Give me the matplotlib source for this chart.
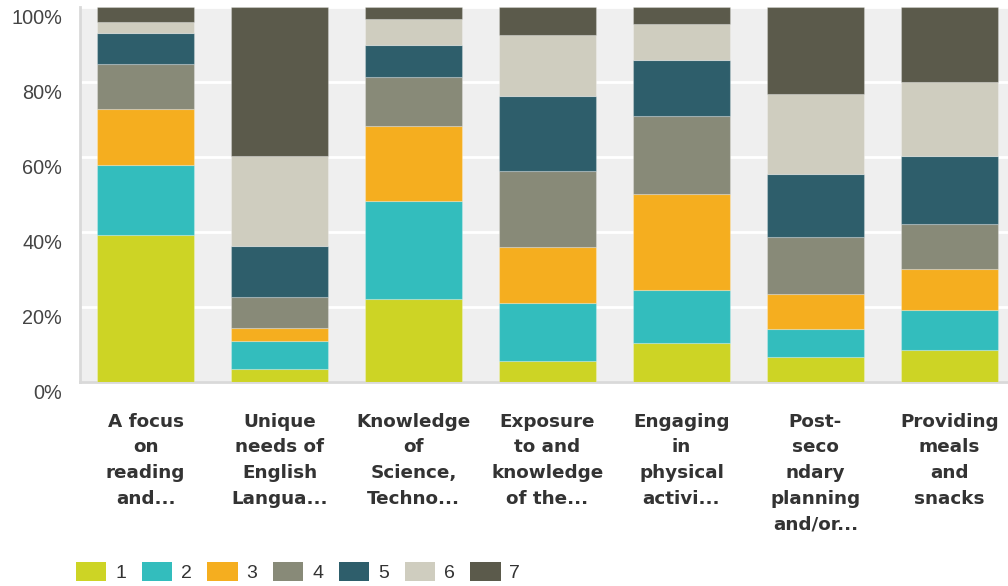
"""Stacked 100% bar chart of rating distribution per topic."""

import matplotlib
matplotlib.use('Agg')
import matplotlib.pyplot as plt
import matplotlib.transforms as mtransforms
from matplotlib.patches import Patch
import numpy as np

plt.rcParams['font.family'] = ['Liberation Sans', 'DejaVu Sans']

categories = ['A focus\non\nreading\nand...',
              'Unique\nneeds of\nEnglish\nLangua...',
              'Knowledge\nof\nScience,\nTechno...',
              'Exposure\nto and\nknowledge\nof the...',
              'Engaging\nin\nphysical\nactivi...',
              'Post-\nseco\nndary\nplanning\nand/or...',
              'Providing\nmeals\nand\nsnacks']
series_names = ['1', '2', '3', '4', '5', '6', '7']

# percentages per rating, one list per rating (1..7), one value per category
r1 = [39.3, 3.5, 22.1, 5.6, 10.6, 6.7, 8.6]
r2 = [18.7, 7.6, 26.2, 15.5, 14.1, 7.5, 10.6]
r3 = [14.9, 3.5, 20.1, 15.1, 25.6, 9.4, 11.0]
r4 = [12.1, 8.1, 13.0, 20.1, 20.6, 15.1, 12.1]
r5 = [8.1, 13.6, 8.5, 20.1, 15.0, 16.8, 18.1]
r6 = [2.9, 24.1, 7.1, 16.1, 9.6, 21.4, 19.6]
r7 = [4.0, 39.6, 3.0, 7.5, 4.5, 23.1, 20.0]

colors = ['#cdd425', '#33bdbd', '#f5ae1f', '#888a78', '#2e5e6b', '#cfcdbf', '#5b5a4b']

fig = plt.figure(figsize=(10.08, 5.86), dpi=100)
ax = fig.add_axes([80 / 1008, 203.7 / 586, 935 / 1008, 375 / 586])
ax.set_facecolor('#efefef')

x = np.arange(len(categories))
bottom = np.zeros(len(categories))
for name, vals, col in zip(series_names, [r1, r2, r3, r4, r5, r6, r7], colors):
    vals = np.array(vals)
    ax.bar(x, vals, bottom=bottom, width=0.724, color=col,
           edgecolor=(1, 1, 1, 0.25), linewidth=0.8, zorder=3)
    bottom += vals

ax.set_xlim(-0.49, 6.49)
ax.set_ylim(0, 100)

ax.set_yticks([0, 20, 40, 60, 80, 100])
ax.set_yticklabels(['0%', '20%', '40%', '60%', '80%', '100%'], fontsize=14.3, color='#444444')
ax.yaxis.grid(True, color='white', linewidth=2, zorder=1)
ax.set_axisbelow(True)
ax.tick_params(axis='y', length=0, pad=13)
offset = mtransforms.ScaledTranslation(0, -9 / 100, fig.dpi_scale_trans)
for lbl in ax.get_yticklabels():
    lbl.set_transform(lbl.get_transform() + offset)

ax.set_xticks(x)
ax.set_xticklabels(categories, fontsize=13.2, fontweight='bold', color='#333333',
                   family='DejaVu Sans', linespacing=1.54, va='top')
ax.tick_params(axis='x', length=0, pad=22)

for side in ['top', 'right']:
    ax.spines[side].set_visible(False)
for side in ['left', 'bottom']:
    ax.spines[side].set_color('#d9d9d9')
    ax.spines[side].set_linewidth(2)

handles = [Patch(facecolor=c, edgecolor='none', label=n) for n, c in zip(series_names, colors)]
leg = fig.legend(handles=handles, loc='center left', bbox_to_anchor=(76 / 1008, 14 / 586), ncol=7,
                 frameon=False, fontsize=14, handlelength=1.55, handleheight=1.13,
                 handletextpad=0.46, columnspacing=0.81, borderpad=0, borderaxespad=0)
for t in leg.get_texts():
    t.set_color('#333333')

fig.savefig('out.png', dpi=100)
